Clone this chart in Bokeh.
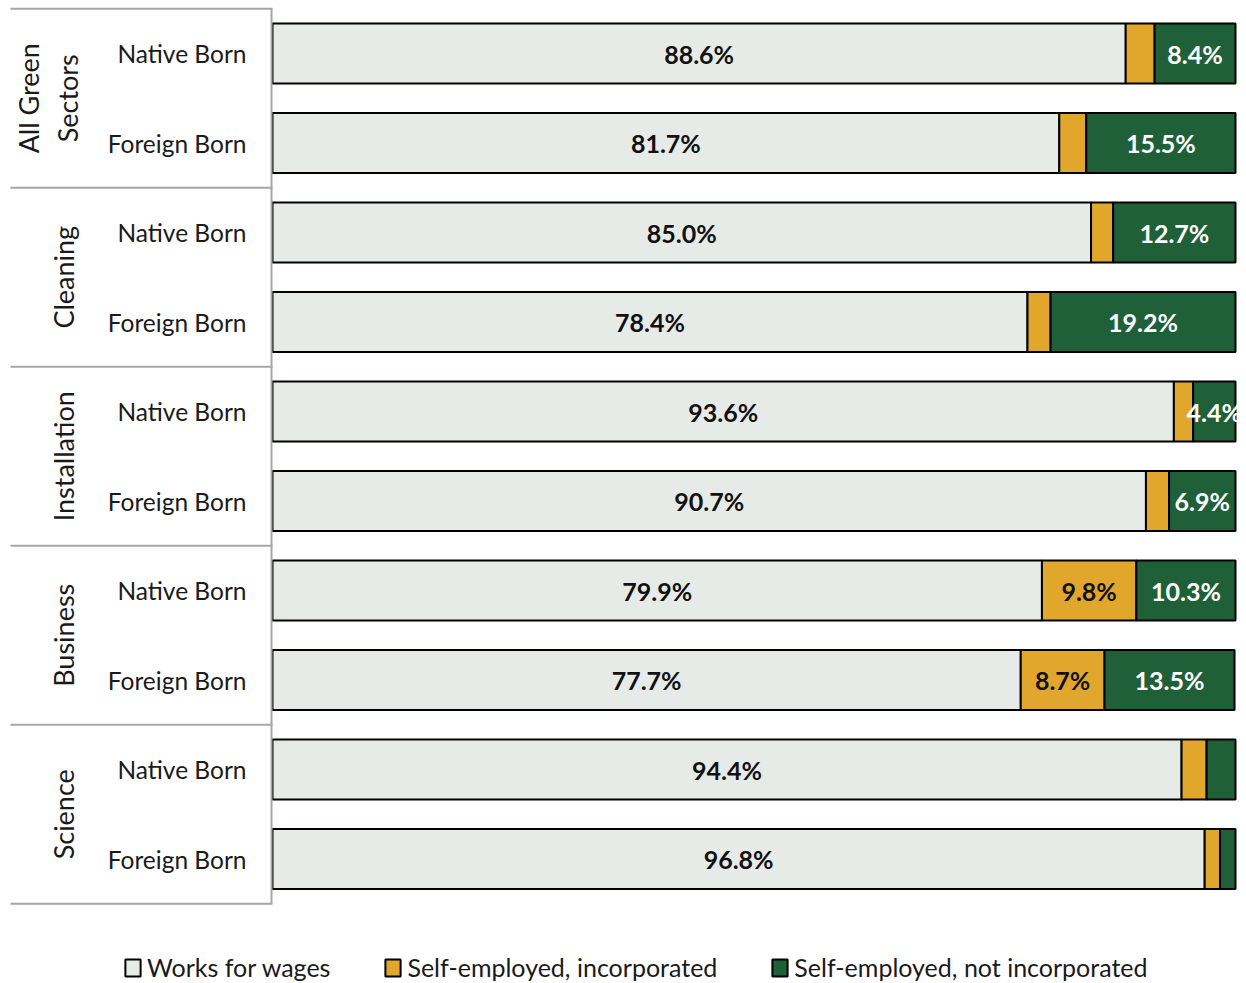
import math
from bokeh.plotting import figure
from bokeh.models import ColumnDataSource, Range1d, Legend, LegendItem
from bokeh.core.properties import value
from bokeh.embed import file_html
from bokeh.resources import INLINE

# ---------------- data ----------------
groups = ["All Green\nSectors", "Cleaning", "Installation", "Business", "Science"]
origins = ["Native Born", "Foreign Born"]
wages = [88.6, 81.7, 85.0, 78.4, 93.6, 90.7, 79.9, 77.7, 94.4, 96.8]
incorporated = [3.0, 2.8, 2.3, 2.4, 2.0, 2.4, 9.8, 8.7, 2.6, 1.6]
not_incorporated = [8.4, 15.5, 12.7, 19.2, 4.4, 6.9, 10.3, 13.5, 3.0, 1.6]
series_names = ["Works for wages", "Self-employed, incorporated", "Self-employed, not incorporated"]

# ---------------- styling ----------------
FONT = "Lato"
C_WAGE = "#e6ebe7"
C_INC = "#e1a72d"
C_NOT = "#1f6038"
W, H = 1246, 983
X0_PX, X100_PX = 272, 1235
PX_PER = (X100_PX - X0_PX) / 100.0
ROW0_PX, ROW_STEP = 53, 89.5


def dx(px):
    return (px - X0_PX) / PX_PER


n = len(wages)
rows = list(range(n))
row_labels = [origins[i % 2] for i in rows]

left1 = [0.0] * n
right1 = wages[:]
left2 = right1[:]
right2 = [a + b for a, b in zip(right1, incorporated)]
left3 = right2[:]
right3 = [a + b for a, b in zip(right2, not_incorporated)]

p = figure(width=W, height=H, output_backend="svg", toolbar_location=None,
           min_border=0, min_border_left=0, min_border_right=0,
           min_border_top=0, min_border_bottom=0)
p.x_range = Range1d(dx(0), dx(W))
p.y_range = Range1d((H - ROW0_PX) / ROW_STEP, -ROW0_PX / ROW_STEP)
p.axis.visible = False
p.grid.visible = False
p.outline_line_color = None
p.background_fill_color = "white"
p.border_fill_color = "white"

BAR_H = 0.67
src = ColumnDataSource(dict(y=rows, l1=left1, r1=right1, l2=left2, r2=right2,
                            l3=left3, r3=right3))
r_w = p.hbar(y="y", left="l1", right="r1", height=BAR_H, source=src,
             fill_color=C_WAGE, line_color="black", line_width=2)
r_i = p.hbar(y="y", left="l2", right="r2", height=BAR_H, source=src,
             fill_color=C_INC, line_color="black", line_width=2)
r_n = p.hbar(y="y", left="l3", right="r3", height=BAR_H, source=src,
             fill_color=C_NOT, line_color="black", line_width=2)

# value labels
def seg_labels(lefts, vals, color, thresh):
    xs, ys, ts = [], [], []
    for i, (l, v) in enumerate(zip(lefts, vals)):
        if v >= thresh:
            xs.append(l + v / 2.0)
            ys.append(i)
            ts.append(f"{v:.1f}%")
    p.text(x=xs, y=ys, text=ts, text_align="center", text_baseline="middle",
           text_font=value(FONT), text_font_style="bold",
           text_font_size="25px", text_color=color)

seg_labels(left1, wages, "#111111", 0)
seg_labels(left2, incorporated, "#111111", 4)
seg_labels(left3, not_incorporated, "white", 4)

# left table: separators
sep_ys = [g * 2 - 0.5 for g in range(len(groups) + 1)]
p.segment(x0=[dx(10)] * len(sep_ys), x1=[dx(272)] * len(sep_ys), y0=sep_ys, y1=sep_ys,
          line_color="#a6a6a6", line_width=2)
p.segment(x0=[dx(271)], x1=[dx(271)], y0=[sep_ys[0]], y1=[sep_ys[-1]],
          line_color="#a6a6a6", line_width=2)

# row labels
p.text(x=[dx(246)] * n, y=rows, text=row_labels, text_align="right",
       text_baseline="middle", text_font=value(FONT), text_font_size="24.5px",
       text_color="#1a1a1a")

# group labels
gx = [dx(63) if "\n" not in g else dx(47.5) for g in groups]
gy = [g * 2 + 0.5 for g in range(len(groups))]
p.text(x=gx, y=gy, text=groups, angle=math.pi / 2, text_align="center",
       text_baseline="middle", text_font=value(FONT), text_font_size="27px",
       text_line_height=1.2, text_color="#1a1a1a")

legend = Legend(items=[LegendItem(label=series_names[0], renderers=[r_w]),
                       LegendItem(label=series_names[1], renderers=[r_i]),
                       LegendItem(label=series_names[2], renderers=[r_n])],
                orientation="horizontal", location=(123, 1),
                label_text_font=FONT, label_text_font_size="25px",
                label_text_color="#1a1a1a",
                glyph_width=19, glyph_height=21, label_standoff=5,
                spacing=53, padding=0, margin=0,
                border_line_alpha=0, background_fill_alpha=0)
p.add_layout(legend, "center")

open("out.html", "w").write(file_html(p, INLINE))
